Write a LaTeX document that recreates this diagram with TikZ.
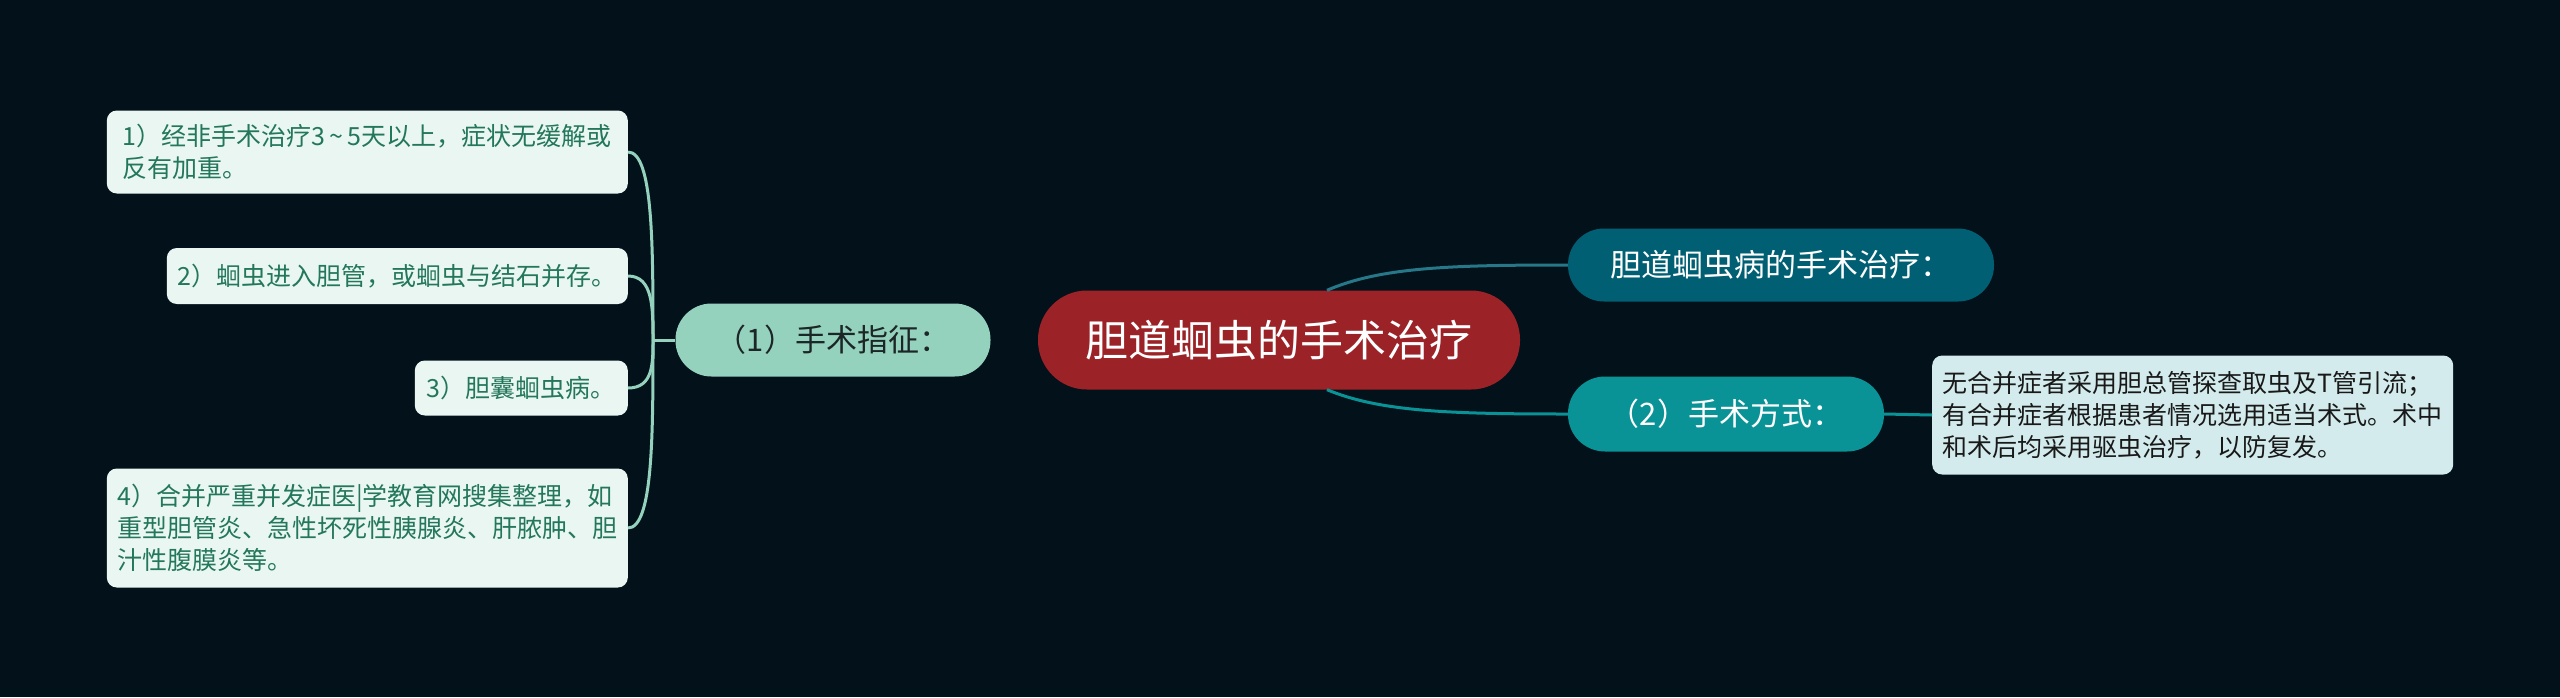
\documentclass[tikz,border=0pt]{standalone}
\usepackage{fontspec}
\usepackage{xcolor}
\setmainfont{Noto Sans CJK SC}
\definecolor{bgdark}{HTML}{03111A}
\definecolor{rootred}{HTML}{9B2226}
\definecolor{mint}{HTML}{94D2BD}
\definecolor{deepteal}{HTML}{005F73}
\definecolor{midteal}{HTML}{0A9396}
\definecolor{leafmint}{HTML}{EAF6F2}
\definecolor{leafteal}{HTML}{D3EBEC}
\definecolor{leafgreen}{HTML}{23775A}
\definecolor{darktext}{HTML}{1C2626}

\begin{document}
\begin{tikzpicture}[x=1pt,y=-1pt,
  pill/.style={inner sep=0pt,align=center,font=\fontsize{31}{36}\selectfont},
  leafbox/.style={fill=leafmint,text=leafgreen,rounded corners=10,inner sep=0pt,align=left,font=\fontsize{25}{32}\selectfont},
  mintline/.style={draw=mint,line width=3},
  deepline/.style={draw=deepteal!85!white,line width=3},
  midline/.style={draw=midteal,line width=3}]
\useasboundingbox (0,0) rectangle (2560,697);
\fill [bgdark] (0,0) rectangle (2560,697);

\node [pill,fill=rootred,text=white,minimum width=482,minimum height=99,rounded corners=49,font=\fontsize{43}{48}\selectfont] (root) at (1279,340) {胆道蛔虫的手术治疗};
\node [pill,fill=mint,text=darktext,minimum width=315,minimum height=73,rounded corners=36] (sym) at (833,340) {（1）手术指征：};
\node [pill,fill=deepteal,text=white,minimum width=426,minimum height=73,rounded corners=36] (topic) at (1781,265) {胆道蛔虫病的手术治疗：};
\node [pill,fill=midteal,text=white,minimum width=316,minimum height=75,rounded corners=37] (way) at (1726,414) {（2）手术方式：};

\node [leafbox,minimum width=521,minimum height=83,anchor=east] (ind1) at (628,152) {1）经非手术治疗3\,\textasciitilde\,5天以上，症状无缓解或\\反有加重。};
\node [leafbox,minimum width=461,minimum height=56,anchor=east] (ind2) at (628,276) {2）蛔虫进入胆管，或蛔虫与结石并存。};
\node [leafbox,minimum width=213,minimum height=55,anchor=east] (ind3) at (628,388) {3）胆囊蛔虫病。};
\node [leafbox,minimum width=521,minimum height=119,anchor=east] (ind4) at (628,528) {4）合并严重并发症医|学教育网搜集整理，如\\重型胆管炎、急性坏死性胰腺炎、肝脓肿、胆\\汁性腹膜炎等。};
\node [leafbox,fill=leafteal,text=black!90,minimum width=521,minimum height=119,anchor=west] (wayleaf) at (1932,415) {无合并症者采用胆总管探查取虫及T管引流；\\有合并症者根据患者情况选用适当术式。术中\\和术后均采用驱虫治疗，以防复发。};

\coordinate (fork) at (653,340);
\coordinate (rootup) at ([xshift=48]root.north);
\coordinate (rootdown) at ([xshift=48]root.south);

\draw [mintline] (sym.west) -- (fork);
\draw [mintline] (fork) .. controls +(0,-95) and (fork |- ind1.east) .. (ind1.east);
\draw [mintline] (fork) .. controls +(0,-32) and (fork |- ind2.east) .. (ind2.east);
\draw [mintline] (fork) .. controls +(0,24) and (fork |- ind3.east) .. (ind3.east);
\draw [mintline] (fork) .. controls +(0,94) and (fork |- ind4.east) .. (ind4.east);

\draw [deepline] (rootup) .. controls +(53,-23) and +(-118,0) .. (topic.west);
\draw [midline] (rootdown) .. controls +(53,22) and +(-118,0) .. (way.west);
\draw [midline] (way.east) -- (wayleaf.west);
\end{tikzpicture}
\end{document}
